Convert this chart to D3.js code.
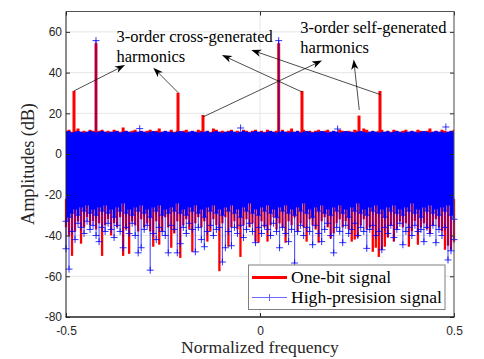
<!DOCTYPE html>
<html><head><meta charset="utf-8">
<script src="https://cdn.jsdelivr.net/npm/d3@7"></script>
<style>body{margin:0;background:#fff}svg{display:block}</style>
</head><body>
<svg id="c" width="484" height="359"></svg>
<script>
// ---------- data ----------
const xTicks = [-0.5, 0, 0.5];
const yTicks = [-80, -60, -40, -20, 0, 20, 40, 60];
const binCount = 130;

// harmonic peaks (one-bit signal)
const peakFreq = [-0.4794, -0.4227, -0.2113, -0.1469, 0.0482, 0.1082, 0.2552, 0.3093];
const peakRed  = [31, 54.4, 30.1, 19.2, 54.4, 31, 18.9, 31];
// fundamental peaks (high-precision signal)
const bigPeakFreq = [-0.4227, 0.0482];
const bigPeakBlue = [55.7, 55.7];

// noise floor, one-bit signal: upper and lower envelope per frequency bin (dB)
const redTop = [
 11.5,12,11,11.5,12.5,11,11.5,11,12,11.5,
 11,11.5,12,11,11.5,11,12,11.5,11,13,
 11.5,11,11.5,12,11,11.5,11,11.5,12,11,
 11.5,12.5,11,11.5,11,12,11,11.5,11,11.5,
 12,11,11.5,11,12,11.5,11,11.5,11,12.5,
 12,11,11.5,11,11.5,12,11,11.5,11,12,
 11.5,11,11.5,12,11,11.5,11,12,11.5,11,
 11.5,11,12,11,11.5,12.5,11,11.5,11,12,
 11,11.5,11,11.5,12,11,11.5,12,11,11.5,
 11,12,11.5,11,11.5,11,12,11.5,11,12.5,
 12,11,11.5,11,11.5,12,11,11.5,11,12,
 11.5,11,11.5,12,11,11.5,11,12,11.5,11,
 11.5,12.5,11,11.5,11,12,11.5,11,11.5,12];
const redLow = [
 -36,-40,-50,-38,-33,-44,-36,-31,-35,-33,
 -37,-34,-50,-35,-32,-40,-34,-36,-31,-50,
 -37,-49,-33,-35,-38,-32,-36,-34,-38,-45.5,
 -33,-44.5,-38,-31,-36,-46,-39,-33,-51,-35,
 -32,-37,-48,-34,-31,-36,-33,-43,-38,-32,
 -35,-57.5,-34,-31,-45.5,-36,-33,-37,-50.5,-35,
 -32,-36,-34,-43,-43.5,-33,-36,-43,-35,-31,
 -37,-34,-36,-43.5,-33,-35,-31,-38,-34,-36,
 -43,-32,-35,-37,-43.5,-33,-31,-36,-41.5,-39,
 -34,-32,-36,-33,-37,-43,-42,-41,-35,-32,
 -37,-36,-48,-46,-50.5,-47,-45.5,-41,-35,-43,
 -37,-33,-36,-34,-45.5,-38,-33,-44.5,-36,-34,
 -37,-39,-35,-32,-36,-38,-47,-45,-47,-43];

// noise floor, high-precision signal: top, bottom of dense band, deepest point per bin (dB)
const blueTop = [
 11,11.3,10.6,11,11.3,11,10.6,11,11.3,11,
 10.6,11,11.3,11,10.6,11,11,11.3,10.6,11,
 11.3,11,10.6,11,11,11.3,11,10.6,11,11.3,
 11,10.6,11,11.3,11,11,10.6,11,11.3,11,
 10.6,11,11.3,11,10.6,11,11,11.3,10.6,11,
 11.3,11,10.6,11,11,11.3,11,10.6,11,11.3,
 11,10.6,11,11.3,11,11,10.6,11,11.3,11,
 10.6,11,11.3,11,10.6,11,11,11.3,10.6,11,
 11.3,11,10.6,11,11,11.3,11,10.6,11,11.3,
 11,10.6,11,11.3,11,11,10.6,11,11.3,11,
 10.6,11,11.3,11,10.6,11,11,11.3,10.6,11,
 11.3,11,10.6,11,11,11.3,11,10.6,11,11.3,
 11,10.6,11,11.3,11,11,10.6,11,11.3,11];
const blueMid = [
 -33,-31,-29,-27,-30,-26,-28,-25,-29,-27,
 -30,-26,-28,-25,-29,-27,-31,-26,-28,-24,
 -29,-27,-30,-26,-28,-25,-29,-27,-31,-26,
 -28,-25,-30,-27,-29,-26,-28,-24,-29,-27,
 -30,-26,-28,-25,-29,-27,-31,-26,-28,-25,
 -29,-27,-30,-26,-28,-25,-29,-27,-31,-26,
 -28,-24,-29,-27,-30,-26,-28,-25,-29,-27,
 -31,-26,-28,-25,-29,-27,-30,-26,-28,-24,
 -29,-27,-31,-26,-28,-25,-29,-27,-30,-26,
 -28,-25,-29,-27,-31,-26,-28,-24,-29,-27,
 -30,-26,-28,-25,-29,-27,-31,-26,-28,-25,
 -29,-27,-30,-26,-28,-24,-29,-27,-31,-26,
 -28,-25,-29,-27,-30,-26,-28,-25,-30,-32];
const blueLow = [
 -46.5,-56.5,-38,-42,-34,-36,-39,-33,-37,-35,
 -40,-43,-36,-38,-34,-37,-41,-35,-38,-46,
 -36,-39,-34,-40,-48.5,-46,-37,-35,-57,-39,
 -42,-36,-38,-40,-48.5,-35,-37,-48.5,-44,-36,
 -39,-34,-37,-48,-36,-42,-45.5,-38,-35,-40,
 -37,-36,-53,-46,-38,-45,-36,-39,-35,-41,
 -37,-34,-38,-43.5,-36,-39,-35,-37,-40,-34,
 -38,-46,-36,-39,-43,-37,-53.5,-38,-35,-40,
 -36,-38,-44.5,-35,-39,-43,-37,-34,-40,-48.5,
 -36,-38,-43.5,-35,-39,-37,-34,-40,-36,-38,
 -46.3,-37,-35,-40,-38,-47,-36,-39,-35,-41,
 -37,-34,-44.5,-38,-36,-40,-35,-38,-37,-43,
 -36,-39,-35,-43.5,-37,-40,-36,-52,-47.5,-42];
// a few high-precision points poking above the band
const blueHighFreq = [-0.31, -0.05, 0.2, 0.479];
const blueHighDb   = [12.5, 12.8, 12.3, 13.3];

// annotations (data units)
const annoText = ["3-order cross-generated", "harmonics", "3-order self-generated", "harmonics"];
const annoFreq = [-0.3698, -0.3698, 0.1039, 0.1039];
const annoDb   = [55.27, 45.45, 59.3, 49.5];
const arrowBaseF  = [-0.4794, -0.2106, -0.1469, 0.1082, 0.3101, 0.2559];
const arrowBaseDb = [31, 30.1, 18.2, 30.5, 29.2, 21.6];
const arrowTipF   = [-0.3479, -0.275, 0.1598, -0.098, -0.0224, 0.2415];
const arrowTipDb  = [43.7, 42.4, 45.9, 48.6, 51.1, 46.4];

const legendLabels = ["One-bit signal", "High-presision signal"];

// ---------- drawing ----------
const svg = d3.select("#c");
const L = 66, R = 454, T = 11.5, B = 317;
const x = d3.scaleLinear().domain([-0.5, 0.5]).range([L, R]);
const y = d3.scaleLinear().domain([-80, 70]).range([B, T]);
const RED = "#ff0000", BLUE = "#0000ff";

// grid
const grid = svg.append("g").attr("stroke", "#e6e6e6").attr("stroke-width", 1);
yTicks.forEach(t => grid.append("line").attr("x1", L).attr("x2", R).attr("y1", y(t)).attr("y2", y(t)));
xTicks.forEach(t => grid.append("line").attr("x1", x(t)).attr("x2", x(t)).attr("y1", T).attr("y2", B));

const bins = d3.range(binCount).map(i => ({
  f: -0.5 + i / (binCount - 1),
  rt: redTop[i] ?? 12, rl: redLow[i] ?? -35,
  bt: blueTop[i] ?? 11, bm: blueMid[i] ?? -28, bl: blueLow[i] ?? -38
}));

// one-bit signal
const gr = svg.append("g");
gr.append("path").datum(bins)
  .attr("d", d3.area().curve(d3.curveStep).x(d => x(d.f)).y0(y(-22)).y1(d => y(d.rt)))
  .attr("fill", RED);
gr.selectAll("line.n").data(bins).join("line")
  .attr("x1", d => x(d.f)).attr("x2", d => x(d.f))
  .attr("y1", y(-22)).attr("y2", d => y(d.rl))
  .attr("stroke", RED).attr("stroke-width", 2.3);
gr.selectAll("line.p").data(peakFreq).join("line")
  .attr("x1", d => x(d)).attr("x2", d => x(d))
  .attr("y1", y(5)).attr("y2", (d, i) => y(peakRed[i]))
  .attr("stroke", RED).attr("stroke-width", 3);

// high-precision signal
const gb = svg.append("g");
gb.append("path").datum(bins)
  .attr("d", d3.area().curve(d3.curveStep).x(d => x(d.f)).y0(d => y(d.bm)).y1(d => y(d.bt)))
  .attr("fill", BLUE);
gb.selectAll("line.t").data(bins).join("line")
  .attr("x1", d => x(d.f)).attr("x2", d => x(d.f))
  .attr("y1", d => y(d.bm)).attr("y2", d => y(d.bl))
  .attr("stroke", BLUE).attr("stroke-opacity", 0.65).attr("stroke-width", 1.2);
gb.selectAll("line.bp").data(bigPeakFreq).join("line")
  .attr("x1", d => x(d)).attr("x2", d => x(d))
  .attr("y1", y(5)).attr("y2", (d, i) => y(bigPeakBlue[i]))
  .attr("stroke", BLUE).attr("stroke-width", 0.8);
const plus = "M-3.5,0H3.5M0,-3.5V3.5";
const markPts = bins.map(d => [d.f, d.bl])
  .concat(bins.map(d => [d.f, d.bm]))
  .concat(bigPeakFreq.map((f, i) => [f, bigPeakBlue[i]]))
  .concat(blueHighFreq.map((f, i) => [f, blueHighDb[i]]));
gb.selectAll("path.m").data(markPts).join("path")
  .attr("d", plus).attr("transform", d => `translate(${x(d[0])},${y(d[1])})`)
  .attr("fill", "none").attr("stroke", BLUE).attr("stroke-opacity", 0.8).attr("stroke-width", 1);

// axes ticks and labels
const tickFont = g => g.selectAll("text").attr("font-family", "'Liberation Sans', Arial, sans-serif")
  .attr("font-size", 12).attr("fill", "#262626");
const fmt = d => String(d);
svg.append("g").attr("transform", `translate(${L},0)`)
  .call(d3.axisLeft(y).tickValues(yTicks).tickSizeInner(-4).tickSizeOuter(0).tickPadding(4).tickFormat(fmt))
  .call(g => g.select(".domain").remove()).call(tickFont)
  .call(g => g.selectAll("line").attr("stroke", "#262626"));
svg.append("g").attr("transform", `translate(${R},0)`)
  .call(d3.axisRight(y).tickValues(yTicks).tickSizeInner(-4).tickSizeOuter(0).tickFormat(""))
  .call(g => g.select(".domain").remove())
  .call(g => g.selectAll("line").attr("stroke", "#262626"));
svg.append("g").attr("transform", `translate(0,${B})`)
  .call(d3.axisBottom(x).tickValues(xTicks).tickSizeInner(-4).tickSizeOuter(0).tickPadding(9).tickFormat(fmt))
  .call(g => g.select(".domain").remove()).call(tickFont)
  .call(g => g.selectAll("line").attr("stroke", "#262626"));
svg.append("g").attr("transform", `translate(0,${T})`)
  .call(d3.axisTop(x).tickValues(xTicks).tickSizeInner(-4).tickSizeOuter(0).tickFormat(""))
  .call(g => g.select(".domain").remove())
  .call(g => g.selectAll("line").attr("stroke", "#262626"));

// box
svg.append("line").attr("x1", L).attr("x2", R).attr("y1", T).attr("y2", T).attr("stroke", "#555").attr("stroke-width", 1);
svg.append("line").attr("x1", R).attr("x2", R).attr("y1", T).attr("y2", B).attr("stroke", "#555").attr("stroke-width", 1);
svg.append("line").attr("x1", L).attr("x2", L).attr("y1", T).attr("y2", B).attr("stroke", "#262626").attr("stroke-width", 1);
svg.append("line").attr("x1", L - 0.5).attr("x2", R + 0.5).attr("y1", B).attr("y2", B).attr("stroke", "#262626").attr("stroke-width", 1.5);

// axis titles
const serif = "'Liberation Serif', 'Times New Roman', serif";
svg.append("text").attr("x", (L + R) / 2).attr("y", 352.5).attr("text-anchor", "middle")
  .attr("font-family", serif).attr("font-size", 17.6).attr("fill", "#262626").text("Normalized frequency");
svg.append("text").attr("transform", "translate(33.5,164) rotate(-90)").attr("text-anchor", "middle")
  .attr("font-family", serif).attr("font-size", 18.5).attr("textLength", 122).attr("fill", "#262626").text("Amplitudes (dB)");

// annotations
const ga = svg.append("g");
annoText.forEach((t, i) => ga.append("text").attr("x", x(annoFreq[i])).attr("y", y(annoDb[i]))
  .attr("font-family", serif).attr("font-size", 16.5).attr("fill", "#000").text(t));
arrowBaseF.forEach((f, i) => {
  const x0 = x(f), y0 = y(arrowBaseDb[i]), x1 = x(arrowTipF[i]), y1 = y(arrowTipDb[i]);
  const a = Math.atan2(y1 - y0, x1 - x0), len = 10, w = 3.6;
  const ux = Math.cos(a), uy = Math.sin(a), px = -uy, py = ux;
  const bx = x1 - ux * len, by = y1 - uy * len;
  const nx = x1 - ux * len * 0.72, ny = y1 - uy * len * 0.72;
  ga.append("line").attr("x1", x0).attr("y1", y0).attr("x2", nx).attr("y2", ny)
    .attr("stroke", "#000").attr("stroke-width", 0.7);
  ga.append("path").attr("d", `M${x1},${y1}L${bx + px * w},${by + py * w}L${nx},${ny}L${bx - px * w},${by - py * w}Z`)
    .attr("fill", "#000");
});

// legend
const lg = svg.append("g");
lg.append("rect").attr("x", 248.5).attr("y", 265).attr("width", 196.5).attr("height", 44.5)
  .attr("fill", "#fff").attr("stroke", "#7f7f7f").attr("stroke-width", 1);
lg.append("line").attr("x1", 252).attr("x2", 287).attr("y1", 277.5).attr("y2", 277.5).attr("stroke", RED).attr("stroke-width", 3);
lg.append("line").attr("x1", 252).attr("x2", 287).attr("y1", 297.5).attr("y2", 297.5).attr("stroke", "#6a6aff").attr("stroke-width", 1.2);
lg.append("path").attr("d", plus).attr("transform", "translate(269.5,297.5)").attr("fill", "none").attr("stroke", "#6a6aff").attr("stroke-width", 1);
legendLabels.forEach((t, i) => lg.append("text").attr("x", 291).attr("y", 282.5 + 20 * i)
  .attr("font-family", serif).attr("font-size", 17.6).attr("fill", "#000").text(t));
</script>
</body></html>
